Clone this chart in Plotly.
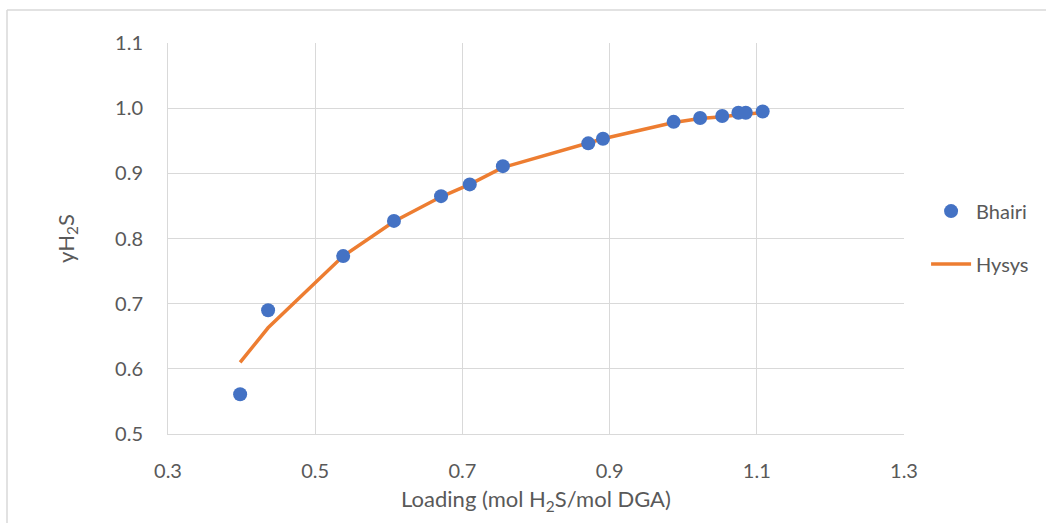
import plotly.graph_objects as go

# Experimental H2S vapour fraction vs. loading (Bhairi)
bhairi_loading = [0.398, 0.436, 0.538, 0.607, 0.671, 0.710, 0.755, 0.871, 0.891,
                  0.987, 1.023, 1.053, 1.075, 1.085, 1.108]
bhairi_yh2s = [0.561, 0.690, 0.773, 0.827, 0.865, 0.883, 0.911, 0.946, 0.953,
               0.979, 0.985, 0.988, 0.993, 0.993, 0.995]

# Hysys simulation at the same loadings
hysys_loading = [0.398, 0.436, 0.538, 0.607, 0.671, 0.710, 0.755, 0.871, 0.891,
                 0.987, 1.023, 1.053, 1.075, 1.085, 1.108]
hysys_yh2s = [0.610, 0.663, 0.773, 0.826, 0.864, 0.883, 0.909, 0.947, 0.953,
              0.978, 0.984, 0.987, 0.990, 0.991, 0.993]

x_ticks = [0.3, 0.5, 0.7, 0.9, 1.1, 1.3]
y_ticks = [0.5, 0.6, 0.7, 0.8, 0.9, 1.0, 1.1]

W, H = 1046, 523
L, R, T, B = 168, 142, 43, 89
FONT = "Lato, Open Sans, sans-serif"
TXT = "#595959"
GRID = "#D9D9D9"

fig = go.Figure()
fig.add_trace(go.Scatter(
    x=hysys_loading, y=hysys_yh2s, mode="lines", name="Hysys",
    line=dict(color="#ED7D31", width=3.5),
    legendgroup="b", legendrank=2,
))
fig.add_trace(go.Scatter(
    x=bhairi_loading, y=bhairi_yh2s, mode="markers", name="Bhairi",
    marker=dict(color="#4472C4", size=14, line=dict(width=0)),
    legendgroup="a", legendrank=1,
))

# light outer frame around the chart
pw, ph = W - L - R, H - T - B
bx = (7 - L) / pw
by = (H - B - 10) / ph
fig.add_shape(type="line", xref="paper", yref="paper", x0=bx, x1=bx, y0=by, y1=-0.5,
              line=dict(color=GRID, width=1.5))
fig.add_shape(type="line", xref="paper", yref="paper", x0=bx, x1=1.5, y0=by, y1=by,
              line=dict(color=GRID, width=1.5))

fig.update_layout(
    width=W, height=H,
    margin=dict(l=L, r=R, t=T, b=B),
    paper_bgcolor="white", plot_bgcolor="white",
    font=dict(family=FONT, color=TXT, size=20),
    showlegend=True,
    legend=dict(x=1.03, y=0.62, xanchor="left", yanchor="top",
                traceorder="grouped", tracegroupgap=24,
                font=dict(family=FONT, size=20, color=TXT), itemwidth=40),
    xaxis=dict(range=[0.3, 1.3], tickvals=x_ticks, ticktext=[f"{v:.1f}" for v in x_ticks],
               showgrid=True, gridcolor=GRID, gridwidth=1, zeroline=False,
               showline=True, linecolor=GRID, linewidth=1,
               ticks="", ticklabelstandoff=19,
               title=dict(text="Loading (mol H<sub>2</sub>S/mol DGA)", standoff=10,
                          font=dict(family=FONT, size=22, color=TXT)),
               tickfont=dict(family=FONT, size=20, color=TXT)),
    yaxis=dict(range=[0.5, 1.1], tickvals=y_ticks, ticktext=[f"{v:.1f}" for v in y_ticks],
               showgrid=True, gridcolor=GRID, gridwidth=1, zeroline=False,
               showline=True, linecolor=GRID, linewidth=1,
               ticks="", ticklabelstandoff=20,
               title=dict(text="yH<sub>2</sub>S", standoff=34,
                          font=dict(family=FONT, size=22, color=TXT)),
               tickfont=dict(family=FONT, size=20, color=TXT)),
)

fig.write_html("out.html")
